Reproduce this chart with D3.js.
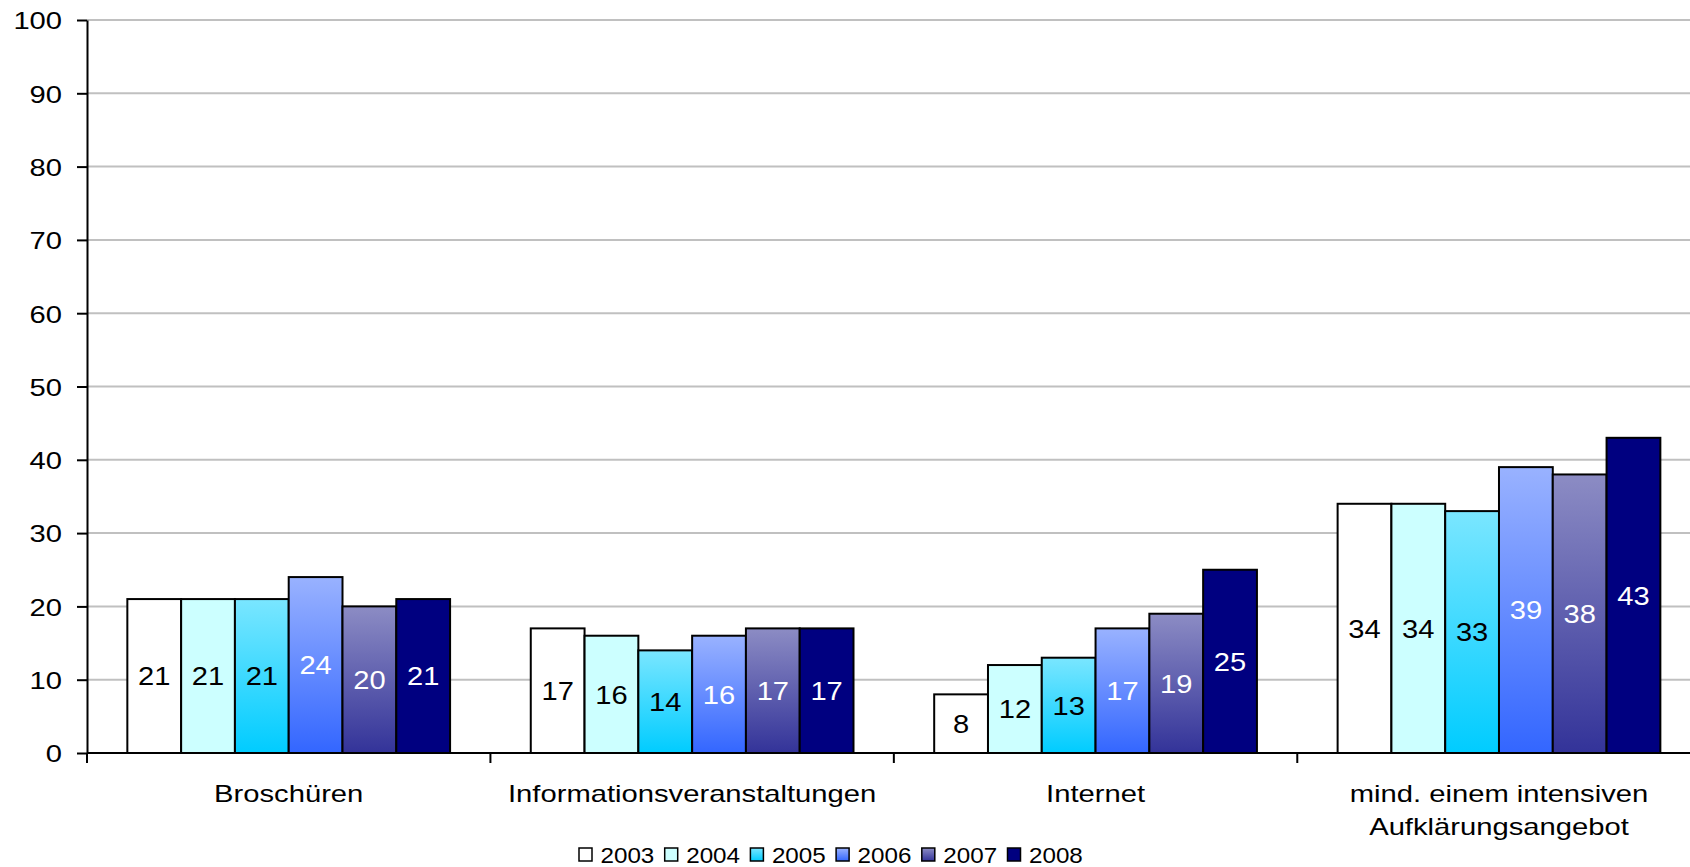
<!DOCTYPE html>
<html>
<head>
<meta charset="utf-8">
<script src="https://cdn.jsdelivr.net/npm/d3@7/dist/d3.min.js"></script>
<style>
  html, body { margin: 0; padding: 0; background: #fff; }
  svg { display: block; }
  text { font-family: "Liberation Sans", Arial, sans-serif; }
</style>
</head>
<body>
<svg id="chart" width="1690" height="867"></svg>
<script>
// Data
const categories = ["Broschüren", "Informationsveranstaltungen", "Internet", "mind. einem intensiven\nAufklärungsangebot"];
const years = ["2003", "2004", "2005", "2006", "2007", "2008"];
const values2003 = [21, 17, 8, 34];
const values2004 = [21, 16, 12, 34];
const values2005 = [21, 14, 13, 33];
const values2006 = [24, 16, 17, 39];
const values2007 = [20, 17, 19, 38];
const values2008 = [21, 17, 25, 43];
const yTicks = [0, 10, 20, 30, 40, 50, 60, 70, 80, 90, 100];

const seriesValues = [values2003, values2004, values2005, values2006, values2007, values2008];

// Fills: [top, bottom] per year
const fills = [
  ["#ffffff", "#ffffff"],
  ["#ccffff", "#ccffff"],
  ["#7ae6ff", "#00ccff"],
  ["#99b2ff", "#3366ff"],
  ["#8c8cc4", "#333399"],
  ["#000080", "#000080"]
];
const labelColors = ["#000", "#000", "#000", "#fff", "#fff", "#fff"];

const svg = d3.select("#chart");
const plot = { left: 87, right: 1700.7, top: 20, bottom: 753 };

// Gradients
const defs = svg.append("defs");
fills.forEach((f, i) => {
  const g = defs.append("linearGradient")
    .attr("id", "grad" + i)
    .attr("x1", 0).attr("y1", 0).attr("x2", 0).attr("y2", 1);
  g.append("stop").attr("offset", "0%").attr("stop-color", f[0]);
  g.append("stop").attr("offset", "100%").attr("stop-color", f[1]);
});

// Scales
const y = d3.scaleLinear().domain([0, 100]).range([plot.bottom, plot.top]);
const x0 = d3.scaleBand().domain(categories).range([plot.left, plot.right]).paddingInner(0).paddingOuter(0);
const x1 = d3.scaleBand().domain(years).range([0, x0.bandwidth()]).paddingInner(0).paddingOuter(0.75);

// Helper: horizontally stretched text
function stretchedText(sel, tx, ty, sx) {
  return sel.attr("transform", (d, i) => `translate(${typeof tx === "function" ? tx(d, i) : tx},${typeof ty === "function" ? ty(d, i) : ty}) scale(${sx},1)`);
}

// Gridlines
svg.append("g").selectAll("line")
  .data(yTicks.filter(t => t > 0))
  .join("line")
  .attr("x1", plot.left).attr("x2", 1690)
  .attr("y1", d => y(d)).attr("y2", d => y(d))
  .attr("stroke", "#c0c0c0").attr("stroke-width", 2);

// Bars
const groups = svg.append("g").selectAll("g")
  .data(categories)
  .join("g")
  .attr("transform", d => `translate(${x0(d)},0)`);

groups.each(function(cat, ci) {
  const g = d3.select(this);
  const rows = years.map((yr, si) => ({ yr, si, v: seriesValues[si][ci] }));
  g.selectAll("rect")
    .data(rows)
    .join("rect")
    .attr("x", d => x1(d.yr))
    .attr("y", d => y(d.v))
    .attr("width", x1.bandwidth())
    .attr("height", d => y(0) - y(d.v))
    .attr("fill", d => `url(#grad${d.si})`)
    .attr("stroke", "#000")
    .attr("stroke-width", 2);
  stretchedText(
    g.selectAll("text.val").data(rows).join("text").attr("class", "val"),
    d => x1(d.yr) + x1.bandwidth() / 2,
    d => (y(d.v) + y(0)) / 2,
    1.12)
    .attr("text-anchor", "middle")
    .attr("dy", "0.36em")
    .attr("font-size", 26)
    .attr("fill", d => labelColors[d.si])
    .text(d => d.v);
});

// Y axis
const yAxis = svg.append("g")
  .attr("transform", `translate(${plot.left},0)`)
  .call(d3.axisLeft(y).tickValues(yTicks).tickSize(10).tickSizeOuter(0).tickPadding(0));
yAxis.select(".domain").attr("stroke", "#000").attr("stroke-width", 2);
yAxis.selectAll(".tick line").attr("stroke", "#000").attr("stroke-width", 2);
yAxis.selectAll(".tick text")
  .attr("x", null).attr("dy", "0.36em")
  .attr("font-size", 24.5)
  .attr("fill", "#000")
  .attr("font-family", "Liberation Sans, Arial, sans-serif")
  .attr("text-anchor", "end")
  .attr("transform", "translate(-25,0) scale(1.19,1)");

// X axis line and tick marks at category boundaries
const xAxis = svg.append("g");
xAxis.append("line")
  .attr("x1", plot.left).attr("x2", plot.right)
  .attr("y1", y(0)).attr("y2", y(0))
  .attr("stroke", "#000").attr("stroke-width", 2);
const boundaries = categories.map(c => x0(c)).concat([x0(categories[categories.length - 1]) + x0.bandwidth()]);
xAxis.selectAll("line.tick")
  .data(boundaries)
  .join("line").attr("class", "tick")
  .attr("x1", d => d).attr("x2", d => d)
  .attr("y1", y(0)).attr("y2", y(0) + 10)
  .attr("stroke", "#000").attr("stroke-width", 2);

// Category labels
categories.forEach(cat => {
  const lines = cat.split("\n");
  const cx = x0(cat) + x0.bandwidth() / 2;
  lines.forEach((ln, li) => {
    stretchedText(svg.append("text"), cx, 802 + li * 32.5, 1.27)
      .attr("text-anchor", "middle")
      .attr("font-size", 23)
      .attr("fill", "#000")
      .text(ln);
  });
});

// Legend
const legend = svg.append("g").attr("transform", "translate(579,848)");
const item = legend.selectAll("g")
  .data(years)
  .join("g")
  .attr("transform", (d, i) => `translate(${i * 85.7},0)`);
item.append("rect")
  .attr("x", 0).attr("y", 0)
  .attr("width", 13).attr("height", 13)
  .attr("fill", (d, i) => `url(#grad${i})`)
  .attr("stroke", "#000").attr("stroke-width", 1.5);
stretchedText(item.append("text"), 21.5, 14.5, 1.1)
  .attr("font-size", 22)
  .attr("fill", "#000")
  .text(d => d);
</script>
</body>
</html>
